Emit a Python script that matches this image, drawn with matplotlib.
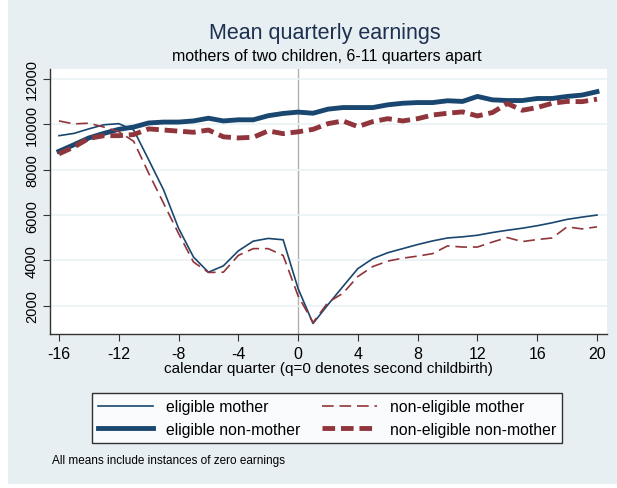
import numpy as np
import matplotlib.pyplot as plt
from matplotlib.patches import Rectangle

plt.rcParams['font.family'] = ['Liberation Sans', 'DejaVu Sans']
plt.rcParams['axes.unicode_minus'] = False

quarter = np.arange(-16, 21)

elig_mother = [9500, 9600, 9800, 9980, 10030, 9750, 8440, 7110, 5420, 4150, 3480, 3760,
               4420, 4850, 4970, 4910, 2760, 1220, 2050, 2850, 3640, 4080, 4340, 4520,
               4700, 4860, 4990, 5040, 5110, 5230, 5330, 5420, 5530, 5660, 5810, 5910, 6000]
nonelig_mother = [10150, 10020, 10050, 9880, 9680, 9250, 7850, 6520, 5190, 3930, 3470, 3480,
                  4220, 4520, 4520, 4220, 2440, 1260, 2150, 2550, 3290, 3730, 3970, 4100,
                  4190, 4300, 4640, 4590, 4590, 4810, 5010, 4830, 4920, 4990, 5480, 5390, 5480]
elig_nonmother = [8810, 9100, 9400, 9600, 9780, 9880, 10060, 10100, 10100, 10150, 10270, 10150,
                  10200, 10200, 10380, 10480, 10540, 10490, 10670, 10740, 10740, 10740, 10860, 10930,
                  10960, 10960, 11040, 11010, 11230, 11080, 11050, 11050, 11140, 11140, 11230, 11290, 11440]
nonelig_nonmother = [8700, 9000, 9380, 9500, 9500, 9550, 9800, 9750, 9700, 9650, 9750, 9450,
                     9400, 9430, 9710, 9590, 9670, 9780, 10030, 10150, 9900, 10120, 10250, 10150,
                     10250, 10410, 10490, 10550, 10370, 10520, 10920, 10620, 10740, 10930, 11010, 11000, 11110]

navy = '#1a476f'
maroon = '#90353b'
bg = '#e8eff2'

fig = plt.figure(figsize=(6.17, 4.89), dpi=100, facecolor='white')
fig.patches.append(Rectangle((8 / 617, 4 / 489), 1, 1, transform=fig.transFigure,
                             facecolor=bg, edgecolor='none', zorder=-10))

ax = fig.add_axes([50 / 617, 1 - 335 / 489, 557 / 617, 265 / 489])
ax.set_facecolor('white')

ax.plot(quarter, elig_mother, color=navy, lw=1.2, label='eligible mother')
ax.plot(quarter, elig_nonmother, color=navy, lw=3.5, label='eligible non-mother')
ax.plot(quarter, nonelig_mother, color=maroon, lw=1.2, dashes=(7, 3.5), label='non-eligible mother')
ax.plot(quarter, nonelig_nonmother, color=maroon, lw=3.5, dashes=(2.6, 1.2), label='non-eligible non-mother')

ax.axvline(0, color='#b0b0b0', lw=1, zorder=0)

ax.set_xlim(-16.6, 20.67)
ax.set_ylim(756, 12440)
ax.set_xticks(np.arange(-16, 21, 4))
ax.set_yticks(np.arange(2000, 12001, 2000))
ax.grid(axis='y', color='#eaf2f3', lw=1.2)
ax.set_axisbelow(True)

for s in ['top', 'right']:
    ax.spines[s].set_visible(False)
for s in ['left', 'bottom']:
    ax.spines[s].set_color('#333333')
    ax.spines[s].set_linewidth(1)

ax.tick_params(axis='both', direction='out', length=5, color='#333333', labelsize=11.5)
plt.setp(ax.get_yticklabels(), rotation=90, va='center')
ax.tick_params(axis='y', labelsize=10.5, pad=3)

ax.set_xlabel('calendar quarter (q=0 denotes second childbirth)', fontsize=11, labelpad=0)

fig.text(0.527, 1 - 33 / 489, 'Mean quarterly earnings', ha='center', va='center',
         fontsize=15.5, color='#1e3050')
fig.text(0.53, 1 - 57 / 489, 'mothers of two children, 6-11 quarters apart', ha='center',
         va='center', fontsize=11.5)

leg = fig.legend(loc='center', bbox_to_anchor=(327 / 617, 1 - 419 / 489), ncol=2,
                 fontsize=11.3, handlelength=3.5, columnspacing=1.4, handletextpad=0.8,
                 fancybox=False, edgecolor='black', borderpad=0.4, labelspacing=0.45)
leg.get_frame().set_linewidth(1)

fig.text(52 / 617, 1 - 461 / 489, 'All means include instances of zero earnings',
         ha='left', va='center', fontsize=8.5)

fig.savefig('out.png', dpi=100, facecolor=fig.get_facecolor())
